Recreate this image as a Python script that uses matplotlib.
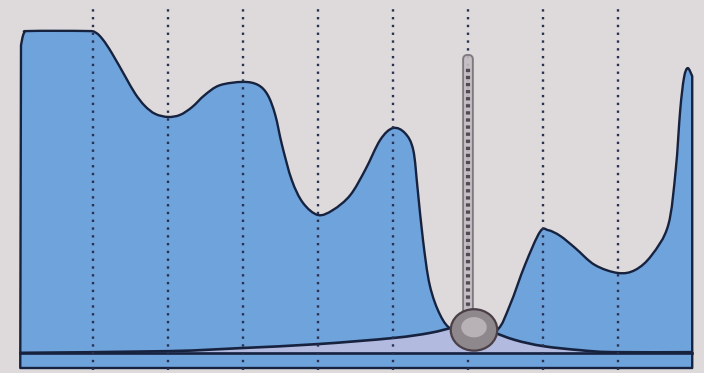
import numpy as np
import matplotlib
matplotlib.use("Agg")
import matplotlib.pyplot as plt
from matplotlib.path import Path
from matplotlib.patches import PathPatch, Ellipse, FancyBboxPatch

# ---- data ----
profile_x = [0.03, 0.04, 0.08, 0.16, 0.9, 1.03, 1.13, 1.25, 1.43, 1.56, 1.69, 1.83, 2.0, 2.16, 2.32,
             2.49, 2.69, 3.0, 3.2, 3.33, 3.43, 3.52, 3.65, 3.8, 4.0, 4.2, 4.43, 4.63, 4.83, 5.0,
             5.16, 5.27, 5.33, 5.4, 5.49, 5.63, 5.79, 6.09, 6.39, 6.56, 6.76, 6.96, 7.07, 7.23,
             7.43, 7.69, 8.0, 8.23, 8.45, 8.67, 8.77, 8.83, 8.88, 8.93, 8.99, 8.99]
profile_y = [0.0, 95.8, 99.4, 100.0, 100.0, 99.6, 97.5, 93.5, 86.5, 81.5, 77.8, 75.4, 74.5, 75.1, 77.4,
             81.0, 83.9, 84.9, 84.0, 81.0, 75.1, 66.2, 55.8, 49.0, 45.4, 46.9, 51.3, 58.8, 67.7, 71.2,
             69.7, 64.7, 52.8, 38.0, 24.6, 15.7, 11.3, 9.2, 11.3, 18.7, 30.6, 40.4, 40.9, 39.2,
             35.6, 30.6, 28.2, 29.1, 33.5, 42.4, 58.8, 76.6, 86.1, 89.0, 86.6, 0.0]

base_x = [0.03, 2.0, 2.96, 4.0, 5.0, 5.49, 5.83, 6.03, 6.29, 6.63, 7.0, 7.49, 7.93, 8.99]
base_y = [4.5, 5.0, 5.9, 7.1, 8.9, 10.4, 12.2, 13.1, 11.0, 8.3, 6.5, 5.3, 4.7, 4.7]

hline_y = 4.6
grid_x = [1, 2, 3, 4, 5, 6, 7, 8]
thermo_x = 6.0
thermo_top = 92.9
bulb_x = 6.08
bulb_y = 11.3

BG = "#dedadb"
BLUE = "#6fa3dc"
LAV = "#b2badf"
EDGE = "#17223f"


def smooth_path(xs, ys):
    """Catmull-Rom through the points, as cubic Bezier path pieces."""
    P = np.column_stack([xs, ys]).astype(float)
    n = len(P)
    verts = [P[0]]
    codes = [Path.MOVETO]
    for i in range(n - 1):
        p0 = P[i - 1] if i > 0 else P[i]
        p1, p2 = P[i], P[i + 1]
        p3 = P[i + 2] if i + 2 < n else P[i + 1]
        c1 = p1 + (p2 - p0) / 6.0
        c2 = p2 - (p3 - p1) / 6.0
        verts += [c1, c2, p2]
        codes += [Path.CURVE4] * 3
    return verts, codes


fig = plt.figure(figsize=(7.04, 3.73), dpi=100, facecolor=BG)
ax = fig.add_axes([0, 0, 1, 1])
ax.set_facecolor(BG)
ax.set_xlim(-0.24, 9.147)
ax.set_ylim(-1.48, 109.2)
ax.axis("off")

# main filled profile (smooth interior, straight vertical sides and bottom)
v, c = smooth_path(profile_x[1:-1], profile_y[1:-1])
verts = [(profile_x[0], profile_y[0])] + [tuple(p) for p in v] + \
        [(profile_x[-1], profile_y[-1]), (profile_x[0], profile_y[0])]
codes = [Path.MOVETO, Path.LINETO] + c[1:] + [Path.LINETO, Path.CLOSEPOLY]
ax.add_patch(PathPatch(Path(verts, codes), facecolor=BLUE, edgecolor=EDGE, lw=1.7,
                       joinstyle="round", zorder=2))

# lighter band between the baseline curve and the horizontal line
bv, bc = smooth_path(base_x, base_y)
band_verts = [tuple(p) for p in bv] + [(base_x[-1], hline_y), (base_x[0], hline_y), (base_x[0], base_y[0])]
band_codes = bc + [Path.LINETO, Path.LINETO, Path.CLOSEPOLY]
ax.add_patch(PathPatch(Path(band_verts, band_codes), facecolor=LAV, edgecolor="none", zorder=3))
ax.add_patch(PathPatch(Path([tuple(p) for p in bv], bc), facecolor="none", edgecolor=EDGE,
                       lw=1.9, zorder=4))
ax.plot([base_x[0], base_x[-1]], [hline_y, hline_y], color=EDGE, lw=1.9, zorder=4)

# dotted vertical lines
for gx in grid_x:
    ax.plot([gx, gx], [(368 - 370) / 3.37, (368 - 5) / 3.37], color="#2a3050",
            lw=1.7, linestyle=(0, (1, 2.3)), zorder=5)

# thermometer-like gray tube with bulb
ax.add_patch(FancyBboxPatch((thermo_x - 0.065, bulb_y), 0.13, thermo_top - bulb_y,
                            boxstyle="round,pad=0,rounding_size=0.06",
                            mutation_aspect=22, facecolor="#c4bec3", edgecolor="#777278",
                            lw=1.4, alpha=0.9, zorder=6))
ax.plot([thermo_x, thermo_x], [bulb_y + 3, thermo_top - 3], color="#514b56", lw=3.0,
        linestyle=(0, (0.8, 0.9)), zorder=7)
ax.add_patch(Ellipse((bulb_x, bulb_y), 0.62, 12.3, facecolor="#8e878b", edgecolor="#4a3f46",
                     lw=1.6, zorder=8))
ax.add_patch(Ellipse((bulb_x, bulb_y + 0.8), 0.34, 6.0, facecolor="#c7c0c4", edgecolor="none",
                     alpha=0.75, zorder=9))

fig.savefig("out.png", dpi=100, facecolor=BG)
